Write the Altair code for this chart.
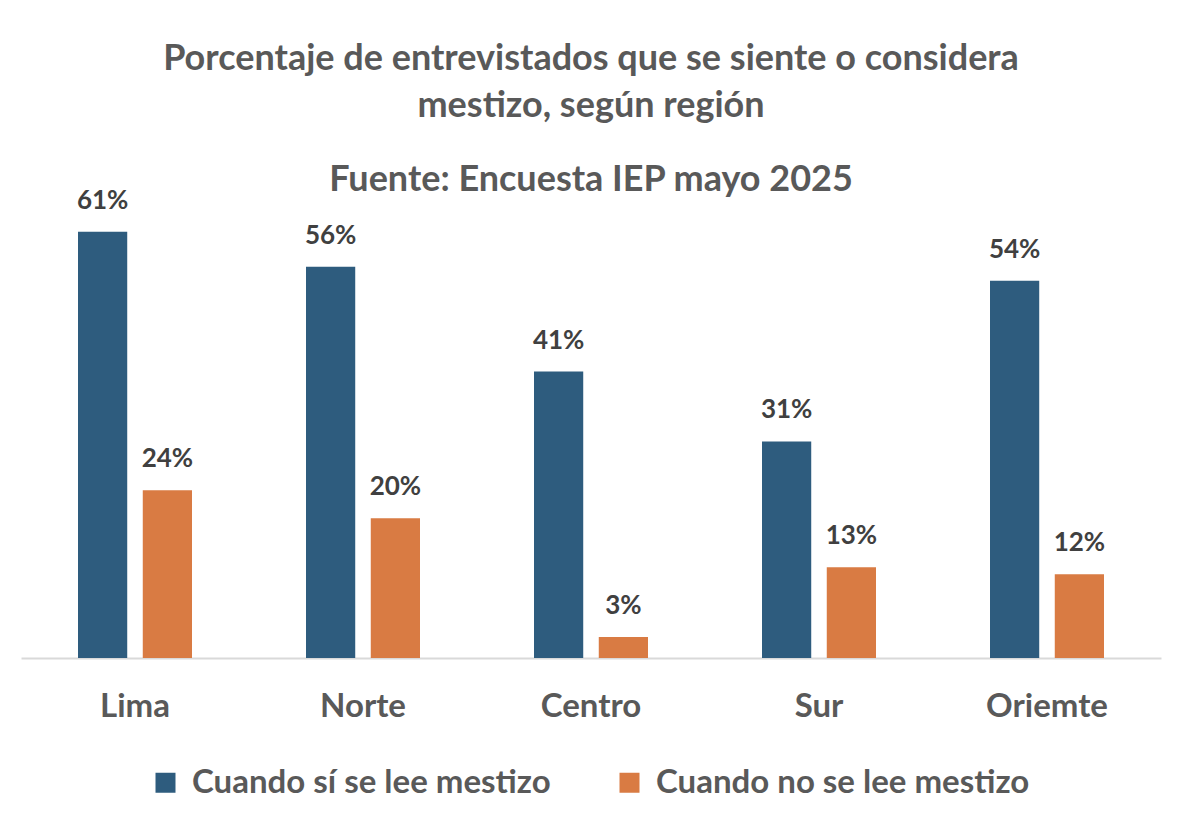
import altair as alt
import pandas as pd

regiones = ["Lima", "Norte", "Centro", "Sur", "Oriemte"]
si_lee = [61, 56, 41, 31, 54]
no_lee = [24, 20, 3, 13, 12]
series = ["Cuando sí se lee mestizo", "Cuando no se lee mestizo"]
colores = ["#2E5C7E", "#D97B43"]

rows = []
for r, a, b in zip(regiones, si_lee, no_lee):
    rows.append({"region": r, "serie": series[0], "valor": a})
    rows.append({"region": r, "serie": series[1], "valor": b})
df = pd.DataFrame(rows)
df["etiqueta"] = df["valor"].astype(str) + "%"

FONT = "Lato"
GRAY = "#595959"

x = alt.X(
    "region:N", sort=regiones,
    scale=alt.Scale(paddingInner=0.5, paddingOuter=0.25),
    axis=alt.Axis(title=None, labelAngle=0, ticks=False, labelPadding=32,
                  labelFontSize=33, labelFontWeight="bold", labelColor=GRAY,
                  labelFont=FONT, domainColor="#D9D9D9", domainWidth=2),
)
xo = alt.XOffset("serie:N", sort=series, scale=alt.Scale(paddingInner=0.24, paddingOuter=0))
y = alt.Y("valor:Q", scale=alt.Scale(domain=[0, 70]), axis=None)
color = alt.Color(
    "serie:N", sort=series,
    scale=alt.Scale(domain=series, range=colores),
    legend=alt.Legend(title=None, orient="none", legendX=128, legendY=597,
                      direction="horizontal", symbolType="square", symbolSize=400,
                      symbolStrokeWidth=0, labelFontSize=33, labelFont=FONT,
                      labelFontWeight="bold", labelColor=GRAY, columnPadding=62,
                      labelOffset=10, labelLimit=0, padding=0),
)

bars = alt.Chart(df).mark_bar().encode(x=x, xOffset=xo, y=y, color=color)
text = alt.Chart(df).mark_text(
    dy=-31, baseline="middle", fontSize=26, fontWeight="bold", font=FONT, color="#404040"
).encode(x=x, xOffset=xo, y=y, text="etiqueta:N")

chart = alt.layer(bars, text).properties(
    width=1140, height=489,
    padding={"left": 13, "top": 161, "right": 31, "bottom": 150},
    autosize=alt.AutoSizeParams(type="none"),
    background="white",
    title=alt.Title(
        text=["Porcentaje de entrevistados que se siente o considera", "mestizo, según región"],
        subtitle="Fuente: Encuesta IEP mayo 2025",
        anchor="middle", fontSize=36, font=FONT, fontWeight="bold", color=GRAY,
        lineHeight=47, subtitleFont=FONT, subtitleFontSize=36, subtitleFontWeight="bold",
        subtitleColor=GRAY, subtitlePadding=38, subtitleLineHeight=36, offset=-30,
    ),
).configure_view(stroke=None)

chart.save("out.html", embed_options={"renderer": "svg", "actions": False})
